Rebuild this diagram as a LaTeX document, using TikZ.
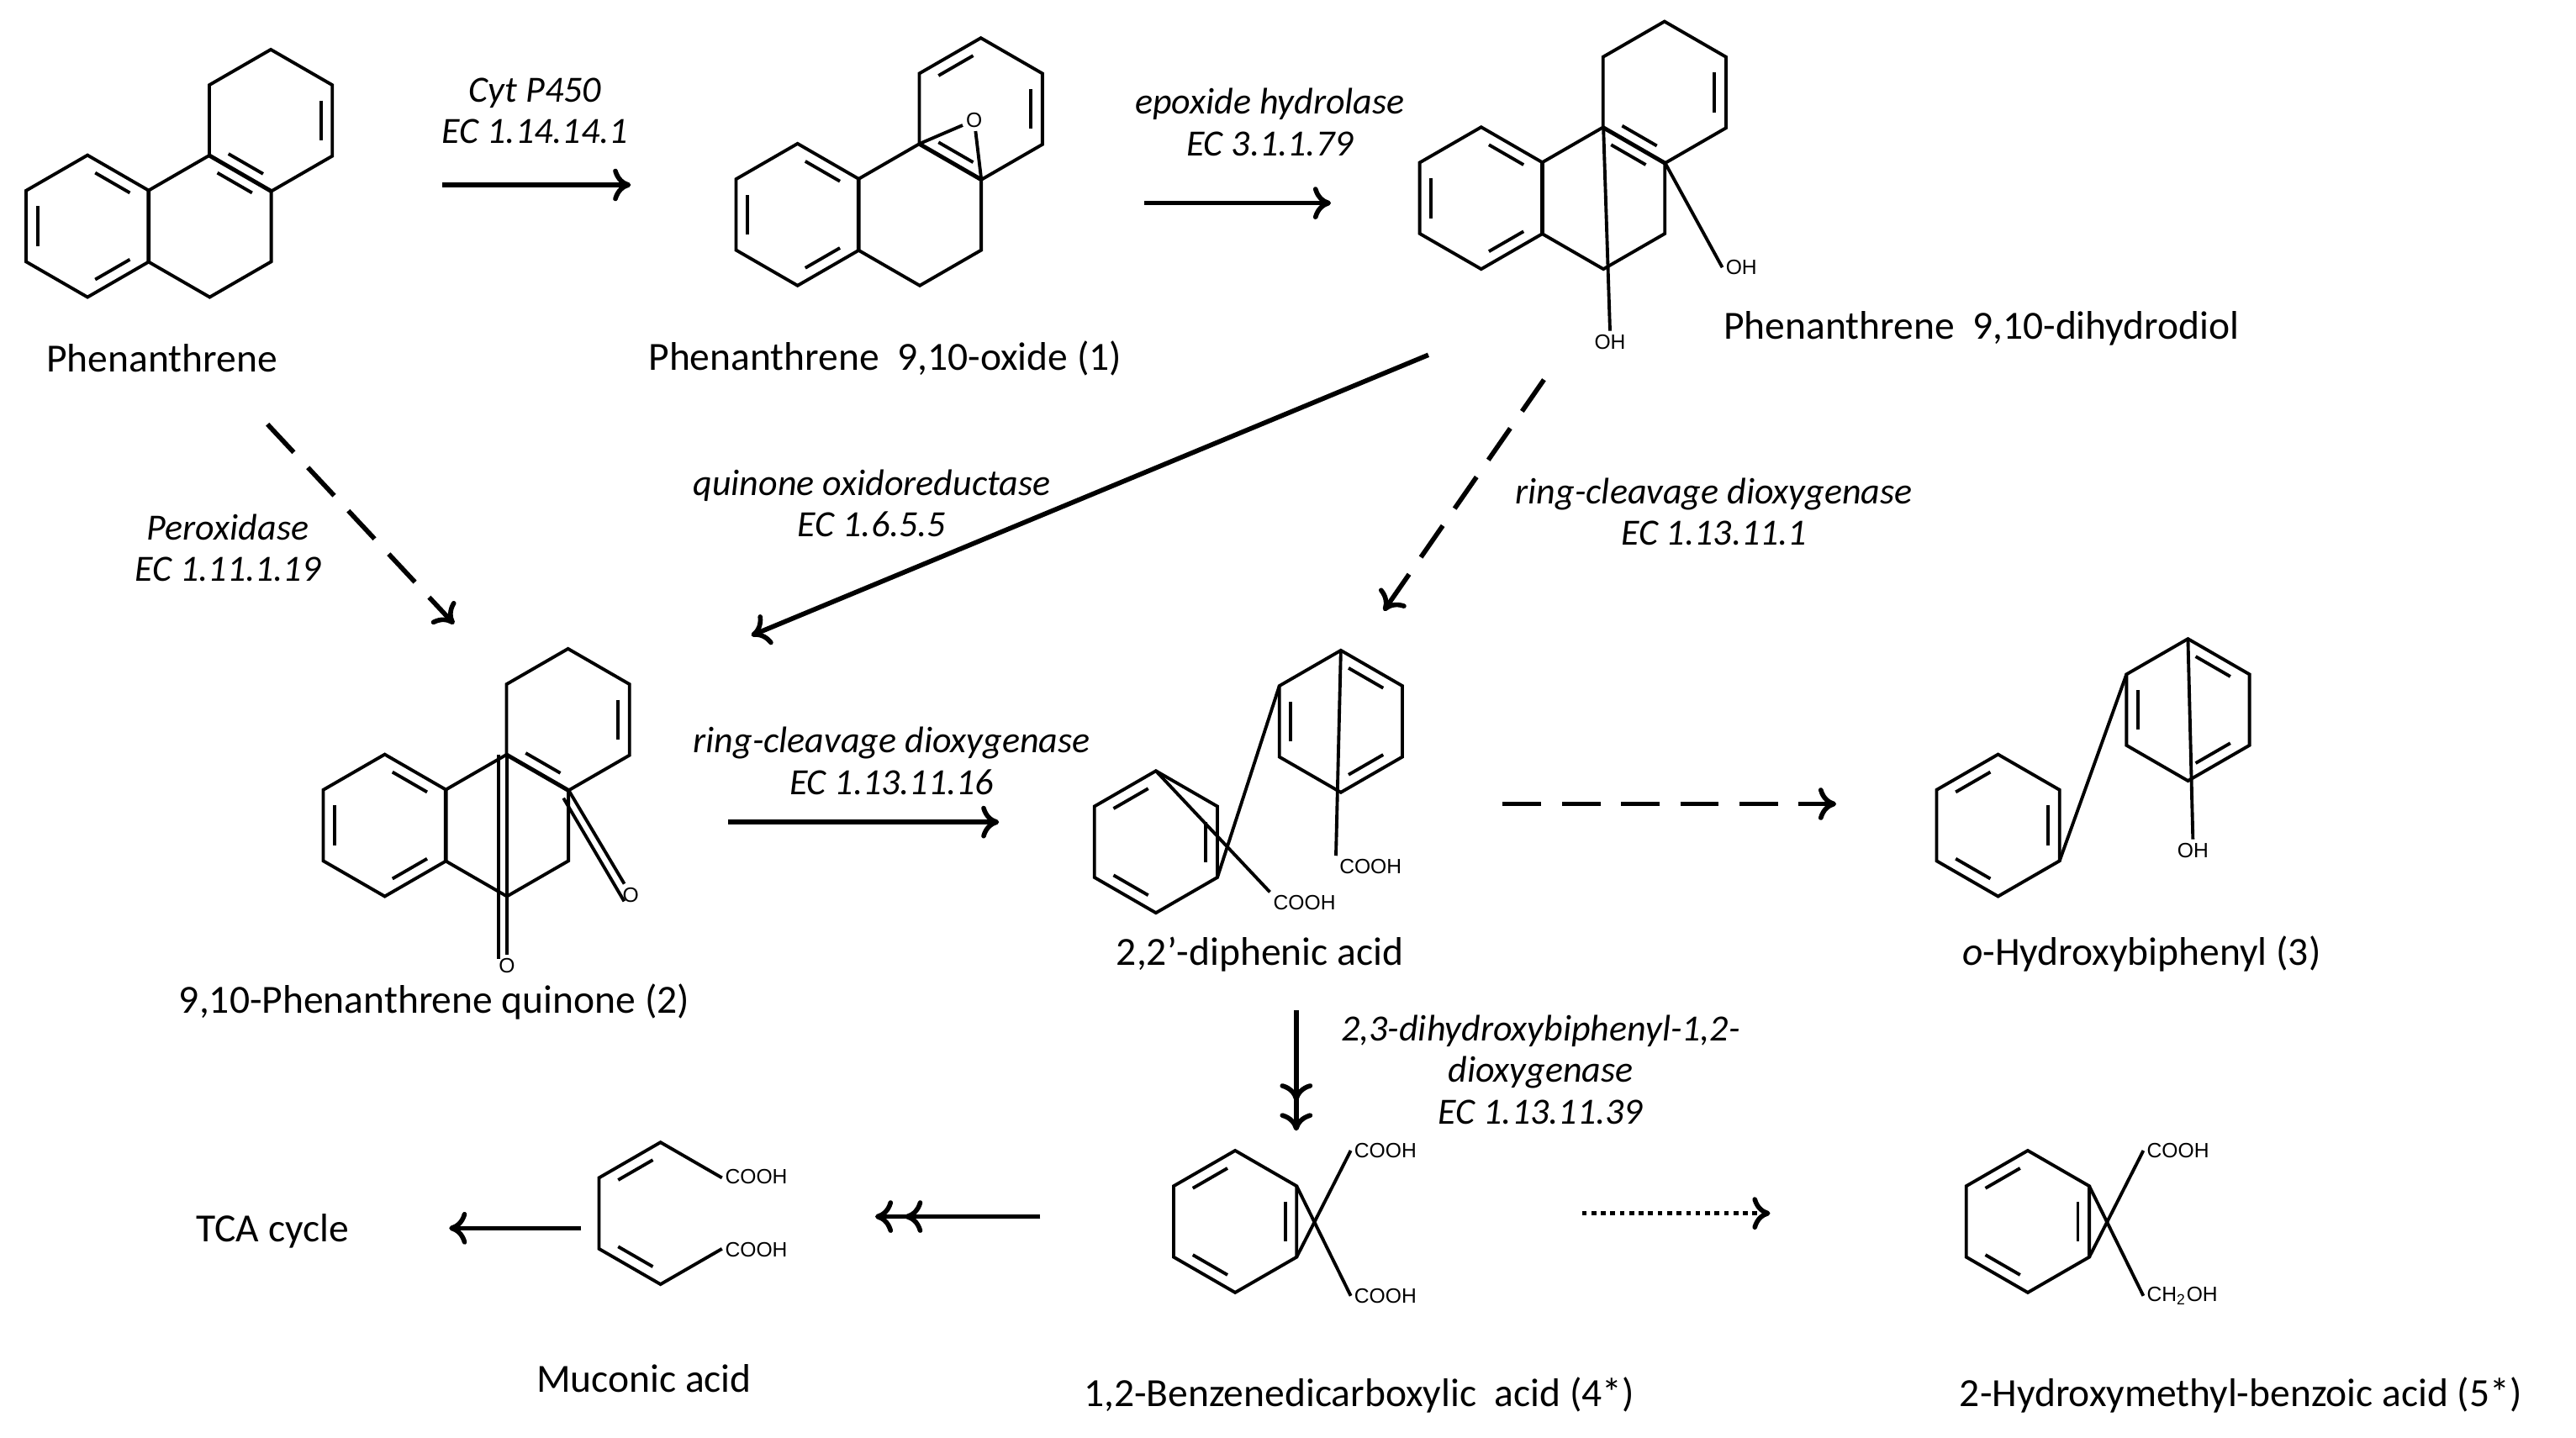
\documentclass[tikz,border=0pt]{standalone}
\usepackage{fontspec}
\setmainfont{Carlito}
\newfontfamily\chemfont{Liberation Sans}
\usetikzlibrary{arrows.meta,calc}
\tikzset{
  bond/.style={line width=1.1pt},
  rxn/.style={line width=1.6pt, -{To[length=6pt,width=11pt]}},
  rxntwo/.style={line width=1.6pt, -{To[length=6pt,width=11pt,sep=4pt]To[length=6pt,width=11pt]}},
  longdash/.style={dash pattern=on 13pt off 7pt},
  dotline/.style={dash pattern=on 1.6pt off 1.6pt},
  molname/.style={font=\fontsize{13.5}{15}\selectfont},
  enz/.style={font=\fontsize{12.5}{14}\selectfont\itshape, align=center},
  grp/.style={font=\chemfont\fontsize{7}{8}\selectfont, inner sep=1pt}
}
% hexagon: centre, inner double bonds (edge start angles)
\newcommand\hexa[2]{%
  \begin{scope}[shift={#1}]
    \draw[bond] (30:43) -- (90:43) -- (150:43) -- (210:43) -- (270:43) -- (330:43) -- cycle;
    \foreach \e in {#2} \draw[bond,shorten <=3pt,shorten >=3pt] (\e:35) -- (\e+60:35);
  \end{scope}}
\begin{document}
\begin{tikzpicture}[x=0.0196cm, y=-0.0196cm]
  \useasboundingbox (0,0) rectangle (1560,871);
  % phenanthrene
  \hexa{(53,137)}{30,150,270}
  \hexa{(127,137)}{270}
  \hexa{(164,73)}{330,90}
  \node[molname] (phen) at (98,217) {Phenanthrene};
  % oxide (1)
  \hexa{(483,130)}{30,150,270}
  \hexa{(557,130)}{}
  \hexa{(594,66)}{330,90,210}
  \node[grp] (epo) at ($(557,130)+(300:66)$) {O};
  \draw[bond] (epo) -- ($(557,130)+(270:43)$);
  \draw[bond] (epo) -- ($(557,130)+(330:43)$);
  \node[molname] (oxide) at (536,217) {Phenanthrene~ 9,10-oxide (1)};
  % dihydrodiol
  \hexa{(897,120)}{30,150,270}
  \hexa{(971,120)}{270}
  \hexa{(1008,56)}{330,90}
  \node[grp, anchor=west] (oh1) at (1043,162) {OH};
  \node[grp] (oh2) at (975,207) {OH};
  \draw[bond] ($(971,120)+(330:43)$) -- (oh1.west);
  \draw[bond] ($(971,120)+(270:43)$) -- (oh2.north);
  \node[molname] (diol) at (1200,199) {Phenanthrene~ 9,10-dihydrodiol};
  % quinone (2)
  \hexa{(233,500)}{30,150,270}
  \hexa{(307,500)}{}
  \hexa{(344,436)}{330,90}
  \node[grp] (o1) at (382,542) {O};
  \node[grp] (o2) at (307,585) {O};
  \draw[bond] ($(307,500)+(330:43)$) -- (o1);
  \draw[bond] ($(307,500)+(270:43)$) -- (o2);
  \draw[bond] ($(307,500)+(330:43)+(-3,5)$) -- ($(o1)+(-4,4)$);
  \draw[bond] ($(307,500)+(270:43)+(-5,0)$) -- ($(o2)+(-5,-4)$);
  \node[molname] (quin) at (263,607) {9,10-Phenanthrene quinone (2)};
  % diphenic acid
  \hexa{(700,510)}{90,210,330}
  \hexa{(812,437)}{30,150,270}
  \draw[bond] ($(700,510)+(30:43)$) -- ($(812,437)+(210:43)$);
  \node[grp] (cooh1) at (830,525) {COOH};
  \node[grp] (cooh2) at (790,547) {COOH};
  \draw[bond] ($(812,437)+(270:43)$) -- (cooh1.north west);
  \draw[bond] ($(700,510)+(270:43)$) -- (cooh2.north west);
  \node[molname] (diph) at (763,578) {2,2’-diphenic acid};
  % o-hydroxybiphenyl
  \hexa{(1210,500)}{90,210,330}
  \hexa{(1325,430)}{30,150,270}
  \draw[bond] ($(1210,500)+(30:43)$) -- ($(1325,430)+(210:43)$);
  \node[grp] (oh3) at (1328,515) {OH};
  \draw[bond] ($(1325,430)+(270:43)$) -- (oh3.north);
  \node[molname] (hbp) at (1297,578) {\textit{o}-Hydroxybiphenyl (3)};
  % phthalic acid (4*)
  \hexa{(748,740)}{90,210,330}
  \node[grp, anchor=west] (cooh3) at (818,697) {COOH};
  \node[grp, anchor=west] (cooh4) at (818,785) {COOH};
  \draw[bond] ($(748,740)+(30:43)$) -- (cooh3.west);
  \draw[bond] ($(748,740)+(330:43)$) -- (cooh4.west);
  \node[molname] (phth) at (823,845) {1,2-Benzenedicarboxylic~ acid (4*)};
  % 2-hydroxymethyl-benzoic acid (5*)
  \hexa{(1228,740)}{90,210,330}
  \node[grp, anchor=west] (cooh5) at (1298,697) {COOH};
  \node[grp, anchor=west] (ch2oh) at (1298,785) {CH\textsubscript{2}OH};
  \draw[bond] ($(1228,740)+(30:43)$) -- (cooh5.west);
  \draw[bond] ($(1228,740)+(330:43)$) -- (ch2oh.west);
  \node[molname] (hmb) at (1357,845) {2-Hydroxymethyl-benzoic acid (5*)};
  % muconic acid
  \begin{scope}[shift={(400,735)}]
    \draw[bond] (30:43) -- (90:43) -- (150:43) -- (210:43) -- (270:43) -- (330:43);
    \draw[bond,shorten <=3pt,shorten >=3pt] (90:35) -- (150:35);
    \draw[bond,shorten <=3pt,shorten >=3pt] (210:35) -- (270:35);
  \end{scope}
  \node[grp, anchor=west] (cooh6) at (437,713) {COOH};
  \node[grp, anchor=west] (cooh7) at (437,757) {COOH};
  \node[molname] (muc) at (390,835) {Muconic acid};
  \node[molname] (tca) at (165,746) {TCA cycle};
  % arrow ends
  \coordinate (a1s) at (268,112); \coordinate (a1e) at (382,112);
  \coordinate (a2s) at (693,123); \coordinate (a2e) at (806,123);
  \coordinate (a3s) at (865,215); \coordinate (a3e) at (455,385);
  \coordinate (a4s) at (935,230); \coordinate (a4e) at (838,370);
  \coordinate (a5s) at (162,257); \coordinate (a5e) at (275,378);
  \coordinate (a6s) at (441,498); \coordinate (a6e) at (605,498);
  \coordinate (a7s) at (910,487); \coordinate (a7e) at (1112,487);
  \coordinate (a8s) at (785,612); \coordinate (a8e) at (785,685);
  \coordinate (a9s) at (630,737); \coordinate (a9e) at (530,737);
  \coordinate (a10s) at (352,744); \coordinate (a10e) at (272,744);
  \coordinate (a11s) at (958,735); \coordinate (a11e) at (1072,735);
  \draw[rxn] (a1s) -- (a1e);
  \draw[rxn] (a2s) -- (a2e);
  \draw[rxn] (a3s) -- (a3e);
  \draw[rxn,longdash] (a4s) -- (a4e);
  \draw[rxn,longdash] (a5s) -- (a5e);
  \draw[rxn] (a6s) -- (a6e);
  \draw[rxn,longdash] (a7s) -- (a7e);
  \draw[rxntwo] (a8s) -- (a8e);
  \draw[rxntwo] (a9s) -- (a9e);
  \draw[rxn] (a10s) -- (a10e);
  \draw[rxn,dotline] (a11s) -- (a11e);
  % enzymes
  \node[enz] (e1) at (324,67) {Cyt P450\\EC 1.14.14.1};
  \node[enz] (e2) at (769,74) {epoxide hydrolase\\EC 3.1.1.79};
  \node[enz] (e3) at (528,305) {quinone oxidoreductase\\EC 1.6.5.5};
  \node[enz] (e4) at (1038,310) {ring-cleavage dioxygenase\\EC 1.13.11.1};
  \node[enz] (e5) at (138,332) {Peroxidase\\EC 1.11.1.19};
  \node[enz] (e6) at (540,461) {ring-cleavage dioxygenase\\EC 1.13.11.16};
  \node[enz] (e7) at (933,648) {2,3-dihydroxybiphenyl-1,2-\\dioxygenase\\EC 1.13.11.39};
\end{tikzpicture}
\end{document}
